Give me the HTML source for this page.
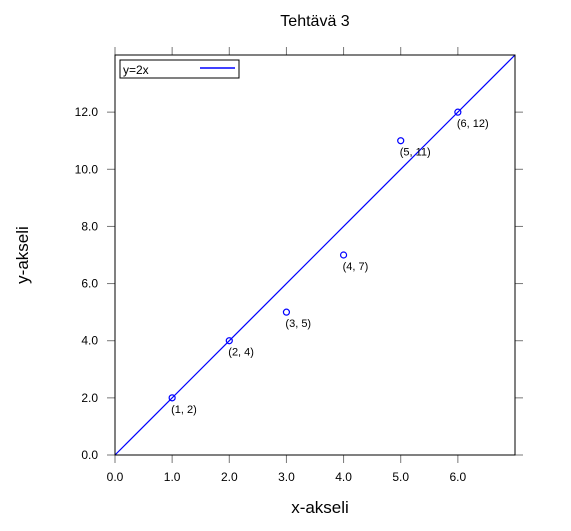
<!DOCTYPE html>
<html><head><meta charset="utf-8"><style>body{margin:0;background:#fff}svg{font-family:"Liberation Sans",sans-serif}</style></head>
<body>
<svg id="c" width="571" height="526" xmlns="http://www.w3.org/2000/svg">
<text x="315" y="26" font-size="16" text-anchor="middle">Tehtävä 3</text>
<text x="320" y="513" font-size="17" text-anchor="middle">x-akseli</text>
<text x="28" y="255" font-size="17" text-anchor="middle" transform="rotate(-90 28 255)">y-akseli</text>
<g id="ax"></g>
<rect x="115" y="55" width="400" height="400" fill="none" stroke="#000"/>
<g>
<rect x="120" y="60" width="119" height="18" fill="#fff" stroke="#000"/>
<text x="123" y="74" font-size="12">y=2x</text>
<line x1="200" y1="68" x2="235" y2="68" stroke="#00f" stroke-width="1.5"/>
</g>
</svg>
<script>
const xs=[1,2,3,4,5,6];
const ys=[2,4,5,7,11,12];
const xTicks=[0,1,2,3,4,5,6];
const yTicks=[0,2,4,6,8,10,12];
const lineX=[0,7];
const sx=v=>115+v*400/7, sy=v=>455-v*400/14;
const g=document.getElementById('ax'), NS='http://www.w3.org/2000/svg';
function mk(t,a){const e=document.createElementNS(NS,t);for(const k in a)e.setAttribute(k,a[k]);g.appendChild(e);return e;}
xTicks.forEach(v=>{
 let e=mk('line',{x1:sx(v),x2:sx(v),y1:455,y2:463,stroke:'#777'});
 
 
 e=mk('line',{x1:sx(v),x2:sx(v),y1:55,y2:47,stroke:'#777'});
 
 
 e=mk('text',{x:sx(v),y:481,'font-size':12,'text-anchor':'middle'});e.textContent=v.toFixed(1);
 
 
});
yTicks.forEach(v=>{
 let e=mk('line',{x1:107,x2:115,y1:sy(v),y2:sy(v),stroke:'#777'});
 
 
 e=mk('line',{x1:515,x2:523,y1:sy(v),y2:sy(v),stroke:'#777'});
 
 
 e=mk('text',{x:98,y:sy(v)+4,'font-size':12,'text-anchor':'end'});e.textContent=v.toFixed(1);
 
 
});
let ln=mk('line',{x1:sx(lineX[0]),y1:sy(2*lineX[0]),x2:sx(lineX[1]),y2:sy(2*lineX[1]),stroke:'#00f','stroke-width':1.2});


xs.forEach((x,i)=>{
 let c=mk('circle',{cx:sx(x),cy:sy(ys[i]),r:3,fill:'none',stroke:'#00f','stroke-width':1.2});
 
 
 let t=mk('text',{x:sx(x)-1,y:sy(ys[i])+15,'font-size':11});t.textContent='('+x+', '+ys[i]+')';
 
 
});
</script>
</body></html>
